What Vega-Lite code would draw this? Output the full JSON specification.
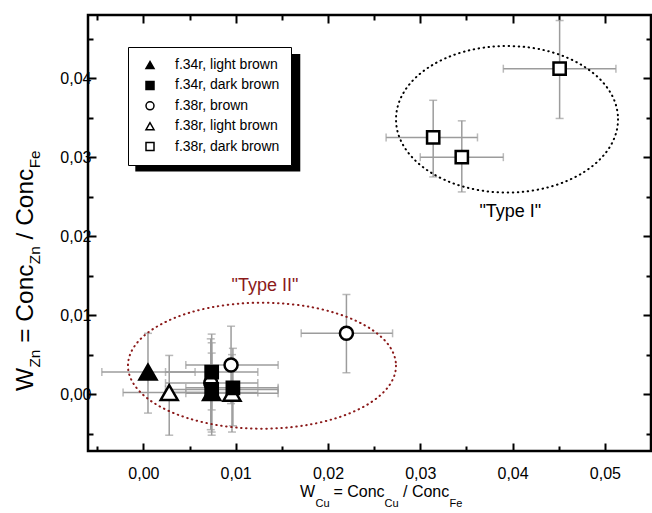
{
  "$schema": "https://vega.github.io/schema/vega-lite/v6.json",
  "width": 563,
  "height": 436,
  "autosize": "none",
  "padding": {"left": 88, "top": 15, "right": 1, "bottom": 62},
  "background": "white",
  "config": {
    "font": "Liberation Sans",
    "view": {"stroke": "black", "strokeWidth": 2.5},
    "axis": {"domain": false, "grid": false, "tickColor": "black", "tickWidth": 2, "labelFont": "Liberation Sans", "labelFontSize": 16, "labelColor": "black", "labelOverlap": false, "labelFlush": false},
    "legend": {"orient": "none", "legendX": 40, "legendY": 32, "padding": 11, "fillColor": "white", "strokeColor": "black", "labelFont": "Liberation Sans", "labelFontSize": 14, "labelColor": "black", "symbolSize": 64, "symbolStrokeWidth": 1.5, "symbolOffset": 4, "labelOffset": 18, "rowPadding": 6.4}
  },
  "datasets": {
    "pts": [
      {"series": "f.38r, brown", "x": 0.0073, "y": 0.0014, "xlo": 0.0024, "xhi": 0.0124, "ylo": -0.0045, "yhi": 0.0070},
      {"series": "f.38r, brown", "x": 0.0095, "y": 0.0037, "xlo": 0.0046, "xhi": 0.0146, "ylo": -0.0012, "yhi": 0.0086},
      {"series": "f.38r, brown", "x": 0.0220, "y": 0.0077, "xlo": 0.0171, "xhi": 0.0270, "ylo": 0.0027, "yhi": 0.0126},
      {"series": "f.38r, light brown", "x": 0.0028, "y": 0.0002, "xlo": -0.0022, "xhi": 0.0077, "ylo": -0.0052, "yhi": 0.0049},
      {"series": "f.38r, light brown", "x": 0.0096, "y": 0.0001, "xlo": 0.0046, "xhi": 0.0146, "ylo": -0.0048, "yhi": 0.0050},
      {"series": "f.34r, light brown", "x": 0.0005, "y": 0.0028, "xlo": -0.0045, "xhi": 0.0056, "ylo": -0.0024, "yhi": 0.0077},
      {"series": "f.34r, light brown", "x": 0.0074, "y": 0.0002, "xlo": 0.0024, "xhi": 0.0124, "ylo": -0.0048, "yhi": 0.0052},
      {"series": "f.34r, dark brown", "x": 0.0074, "y": 0.0028, "xlo": 0.0024, "xhi": 0.0124, "ylo": -0.0020, "yhi": 0.0076},
      {"series": "f.34r, dark brown", "x": 0.0074, "y": 0.0006, "xlo": 0.0024, "xhi": 0.0146, "ylo": -0.0052, "yhi": 0.0065},
      {"series": "f.34r, dark brown", "x": 0.0097, "y": 0.0008, "xlo": 0.0046, "xhi": 0.0146, "ylo": -0.0040, "yhi": 0.0058},
      {"series": "f.38r, dark brown", "x": 0.0314, "y": 0.0325, "xlo": 0.0263, "xhi": 0.0362, "ylo": 0.0275, "yhi": 0.0372},
      {"series": "f.38r, dark brown", "x": 0.0345, "y": 0.0300, "xlo": 0.0300, "xhi": 0.0390, "ylo": 0.0256, "yhi": 0.0346},
      {"series": "f.38r, dark brown", "x": 0.0451, "y": 0.0412, "xlo": 0.0390, "xhi": 0.0512, "ylo": 0.0349, "yhi": 0.0473}
    ],
    "one": [{}]
  },
  "layer": [
    {
      "data": {"name": "pts"},
      "mark": {"type": "rule", "color": "#9c9c9c", "strokeWidth": 1.5},
      "encoding": {
        "x": {"field": "xlo", "type": "quantitative", "scale": {"domain": [-0.006, 0.055], "nice": false, "zero": false},
          "axis": {"orient": "bottom", "title": null, "values": [-0.005, 0, 0.005, 0.01, 0.015, 0.02, 0.025, 0.03, 0.035, 0.04, 0.045, 0.05],
            "tickSize": {"condition": {"test": "abs(datum.value*100-round(datum.value*100))<0.001", "value": -8}, "value": -5},
            "labelPadding": 22,
            "labelExpr": "abs(datum.value*100-round(datum.value*100))<0.001 ? replace(format(datum.value,'.2f'),'.',',') : ''"}},
        "x2": {"field": "xhi"},
        "y": {"field": "y", "type": "quantitative", "scale": {"domain": [-0.0072, 0.048], "nice": false, "zero": false},
          "axis": {"orient": "left", "title": null, "values": [-0.005, 0, 0.005, 0.01, 0.015, 0.02, 0.025, 0.03, 0.035, 0.04, 0.045],
            "tickSize": {"condition": {"test": "abs(datum.value*100-round(datum.value*100))<0.001", "value": -8}, "value": -5},
            "labelPadding": 5,
            "labelExpr": "abs(datum.value*100-round(datum.value*100))<0.001 ? replace(format(datum.value,'.2f'),'.',',') : ''"}}
      }
    },
    {
      "data": {"name": "pts"},
      "mark": {"type": "rule", "color": "#9c9c9c", "strokeWidth": 1.5},
      "encoding": {
        "x": {"field": "x", "type": "quantitative", "axis": null},
        "y": {"field": "ylo", "type": "quantitative", "axis": null},
        "y2": {"field": "yhi"}
      }
    },
    {
      "data": {"name": "pts"},
      "mark": {"type": "tick", "orient": "vertical", "size": 8, "thickness": 1.5, "color": "#9c9c9c"},
      "encoding": {
        "x": {"field": "xlo", "type": "quantitative", "axis": null},
        "y": {"field": "y", "type": "quantitative", "axis": null}
      }
    },
    {
      "data": {"name": "pts"},
      "mark": {"type": "tick", "orient": "vertical", "size": 8, "thickness": 1.5, "color": "#9c9c9c"},
      "encoding": {
        "x": {"field": "xhi", "type": "quantitative", "axis": null},
        "y": {"field": "y", "type": "quantitative", "axis": null}
      }
    },
    {
      "data": {"name": "pts"},
      "mark": {"type": "tick", "orient": "horizontal", "size": 8, "thickness": 1.5, "color": "#9c9c9c"},
      "encoding": {
        "x": {"field": "x", "type": "quantitative", "axis": null},
        "y": {"field": "ylo", "type": "quantitative", "axis": null}
      }
    },
    {
      "data": {"name": "pts"},
      "mark": {"type": "tick", "orient": "horizontal", "size": 8, "thickness": 1.5, "color": "#9c9c9c"},
      "encoding": {
        "x": {"field": "x", "type": "quantitative", "axis": null},
        "y": {"field": "yhi", "type": "quantitative", "axis": null}
      }
    },
    {
      "data": {"name": "one"},
      "mark": {"type": "point", "shape": "M1,0C1,0.3645 0.5523,0.66 0,0.66C-0.5523,0.66 -1,0.3645 -1,0C-1,-0.3645 -0.5523,-0.66 0,-0.66C0.5523,-0.66 1,-0.3645 1,0Z", "size": 49284, "filled": false, "stroke": "black", "strokeWidth": 2, "strokeDash": [0.5, 4.5], "strokeCap": "round", "opacity": 1},
      "encoding": {
        "x": {"datum": 0.0394, "type": "quantitative", "axis": null},
        "y": {"datum": 0.0348, "type": "quantitative", "axis": null}
      }
    },
    {
      "data": {"name": "one"},
      "mark": {"type": "point", "shape": "M1,0C1,0.2596 0.5523,0.47 0,0.47C-0.5523,0.47 -1,0.2596 -1,0C-1,-0.2596 -0.5523,-0.47 0,-0.47C0.5523,-0.47 1,-0.2596 1,0Z", "size": 71824, "filled": false, "stroke": "#8B1A1A", "strokeWidth": 2, "strokeDash": [0.5, 4.5], "strokeCap": "round", "opacity": 1},
      "encoding": {
        "x": {"datum": 0.01285, "type": "quantitative", "axis": null},
        "y": {"datum": 0.0036, "type": "quantitative", "axis": null}
      }
    },
    {
      "data": {"name": "pts"},
      "transform": [{"filter": {"field": "series", "oneOf": ["f.38r, brown"]}}],
      "mark": {"type": "point", "filled": true, "stroke": "black", "strokeWidth": 2.5, "opacity": 1, "size": 170},
      "encoding": {
        "x": {"field": "x", "type": "quantitative", "axis": null},
        "y": {"field": "y", "type": "quantitative", "axis": null},
        "shape": {"field": "series", "type": "nominal",
          "legend": {"title": null, "encode": {"symbols": {"stroke": {"value": "black"}, "strokeWidth": {"value": 1.5}}}},
          "scale": {"domain": ["f.34r, light brown", "f.34r, dark brown", "f.38r, brown", "f.38r, light brown", "f.38r, dark brown"], "range": ["triangle-up", "square", "circle", "triangle-up", "square"]}},
        "fill": {"field": "series", "type": "nominal",
          "legend": {"title": null, "encode": {"symbols": {"stroke": {"value": "black"}, "strokeWidth": {"value": 1.5}}}},
          "scale": {"domain": ["f.34r, light brown", "f.34r, dark brown", "f.38r, brown", "f.38r, light brown", "f.38r, dark brown"], "range": ["black", "black", "white", "white", "white"]}}
      }
    },
    {
      "data": {"name": "pts"},
      "transform": [{"filter": {"field": "series", "oneOf": ["f.38r, light brown", "f.34r, light brown"]}}],
      "mark": {"type": "point", "filled": true, "stroke": "black", "strokeWidth": 2.5, "opacity": 1, "size": 290},
      "encoding": {
        "x": {"field": "x", "type": "quantitative", "axis": null},
        "y": {"field": "y", "type": "quantitative", "axis": null},
        "shape": {"field": "series", "type": "nominal",
          "legend": {"title": null, "encode": {"symbols": {"stroke": {"value": "black"}, "strokeWidth": {"value": 1.5}}}},
          "scale": {"domain": ["f.34r, light brown", "f.34r, dark brown", "f.38r, brown", "f.38r, light brown", "f.38r, dark brown"], "range": ["triangle-up", "square", "circle", "triangle-up", "square"]}},
        "fill": {"field": "series", "type": "nominal",
          "legend": {"title": null, "encode": {"symbols": {"stroke": {"value": "black"}, "strokeWidth": {"value": 1.5}}}},
          "scale": {"domain": ["f.34r, light brown", "f.34r, dark brown", "f.38r, brown", "f.38r, light brown", "f.38r, dark brown"], "range": ["black", "black", "white", "white", "white"]}}
      }
    },
    {
      "data": {"name": "pts"},
      "transform": [{"filter": {"field": "series", "oneOf": ["f.34r, dark brown", "f.38r, dark brown"]}}],
      "mark": {"type": "point", "filled": true, "stroke": "black", "strokeWidth": 2.5, "opacity": 1, "size": 150},
      "encoding": {
        "x": {"field": "x", "type": "quantitative", "axis": null},
        "y": {"field": "y", "type": "quantitative", "axis": null},
        "shape": {"field": "series", "type": "nominal",
          "legend": {"title": null, "encode": {"symbols": {"stroke": {"value": "black"}, "strokeWidth": {"value": 1.5}}}},
          "scale": {"domain": ["f.34r, light brown", "f.34r, dark brown", "f.38r, brown", "f.38r, light brown", "f.38r, dark brown"], "range": ["triangle-up", "square", "circle", "triangle-up", "square"]}},
        "fill": {"field": "series", "type": "nominal",
          "legend": {"title": null, "encode": {"symbols": {"stroke": {"value": "black"}, "strokeWidth": {"value": 1.5}}}},
          "scale": {"domain": ["f.34r, light brown", "f.34r, dark brown", "f.38r, brown", "f.38r, light brown", "f.38r, dark brown"], "range": ["black", "black", "white", "white", "white"]}}
      }
    },
    {
      "data": {"name": "one"},
      "mark": {"type": "text", "text": "\"Type I\"", "align": "center", "baseline": "alphabetic", "fontSize": 18, "font": "Liberation Sans", "color": "black"},
      "encoding": {"x": {"datum": 0.03976, "type": "quantitative", "axis": null}, "y": {"datum": 0.02246, "type": "quantitative", "axis": null}}
    },
    {
      "data": {"name": "one"},
      "mark": {"type": "text", "text": "\"Type II\"", "align": "center", "baseline": "alphabetic", "fontSize": 18, "font": "Liberation Sans", "color": "#8B1A1A"},
      "encoding": {"x": {"datum": 0.01318, "type": "quantitative", "axis": null}, "y": {"datum": 0.0131, "type": "quantitative", "axis": null}}
    },
    {
      "data": {"name": "one"},
      "mark": {"type": "text", "text": "W", "align": "left", "baseline": "alphabetic", "fontSize": 16, "color": "black"},
      "encoding": {"x": {"datum": 0.01697, "type": "quantitative", "axis": null}, "y": {"datum": -0.01302, "type": "quantitative", "axis": null}}
    },
    {
      "data": {"name": "one"},
      "mark": {"type": "text", "text": "Cu", "align": "left", "baseline": "alphabetic", "fontSize": 11, "dx": 15.5, "dy": 10, "color": "black"},
      "encoding": {"x": {"datum": 0.01697, "type": "quantitative", "axis": null}, "y": {"datum": -0.01302, "type": "quantitative", "axis": null}}
    },
    {
      "data": {"name": "one"},
      "mark": {"type": "text", "text": "= Conc", "align": "left", "baseline": "alphabetic", "fontSize": 16, "dx": 33.4, "color": "black"},
      "encoding": {"x": {"datum": 0.01697, "type": "quantitative", "axis": null}, "y": {"datum": -0.01302, "type": "quantitative", "axis": null}}
    },
    {
      "data": {"name": "one"},
      "mark": {"type": "text", "text": "Cu", "align": "left", "baseline": "alphabetic", "fontSize": 11, "dx": 84.5, "dy": 10, "color": "black"},
      "encoding": {"x": {"datum": 0.01697, "type": "quantitative", "axis": null}, "y": {"datum": -0.01302, "type": "quantitative", "axis": null}}
    },
    {
      "data": {"name": "one"},
      "mark": {"type": "text", "text": "/ Conc", "align": "left", "baseline": "alphabetic", "fontSize": 16, "dx": 103, "color": "black"},
      "encoding": {"x": {"datum": 0.01697, "type": "quantitative", "axis": null}, "y": {"datum": -0.01302, "type": "quantitative", "axis": null}}
    },
    {
      "data": {"name": "one"},
      "mark": {"type": "text", "text": "Fe", "align": "left", "baseline": "alphabetic", "fontSize": 11, "dx": 149.5, "dy": 10, "color": "black"},
      "encoding": {"x": {"datum": 0.01697, "type": "quantitative", "axis": null}, "y": {"datum": -0.01302, "type": "quantitative", "axis": null}}
    },
    {
      "data": {"name": "one"},
      "mark": {"type": "text", "text": "W", "align": "left", "baseline": "alphabetic", "fontSize": 24.5, "angle": 270, "color": "black"},
      "encoding": {"x": {"datum": -0.01196, "type": "quantitative", "axis": null}, "y": {"datum": 0.0004, "type": "quantitative", "axis": null}}
    },
    {
      "data": {"name": "one"},
      "mark": {"type": "text", "text": "Zn", "align": "left", "baseline": "alphabetic", "fontSize": 15.3, "angle": 270, "dx": 23.5, "dy": 7, "color": "black"},
      "encoding": {"x": {"datum": -0.01196, "type": "quantitative", "axis": null}, "y": {"datum": 0.0004, "type": "quantitative", "axis": null}}
    },
    {
      "data": {"name": "one"},
      "mark": {"type": "text", "text": "= Conc", "align": "left", "baseline": "alphabetic", "fontSize": 24.5, "angle": 270, "dx": 48.2, "color": "black"},
      "encoding": {"x": {"datum": -0.01196, "type": "quantitative", "axis": null}, "y": {"datum": 0.0004, "type": "quantitative", "axis": null}}
    },
    {
      "data": {"name": "one"},
      "mark": {"type": "text", "text": "Zn", "align": "left", "baseline": "alphabetic", "fontSize": 15.3, "angle": 270, "dx": 126.8, "dy": 7, "color": "black"},
      "encoding": {"x": {"datum": -0.01196, "type": "quantitative", "axis": null}, "y": {"datum": 0.0004, "type": "quantitative", "axis": null}}
    },
    {
      "data": {"name": "one"},
      "mark": {"type": "text", "text": "/ Conc", "align": "left", "baseline": "alphabetic", "fontSize": 24.5, "angle": 270, "dx": 151.5, "color": "black"},
      "encoding": {"x": {"datum": -0.01196, "type": "quantitative", "axis": null}, "y": {"datum": 0.0004, "type": "quantitative", "axis": null}}
    },
    {
      "data": {"name": "one"},
      "mark": {"type": "text", "text": "Fe", "align": "left", "baseline": "alphabetic", "fontSize": 15.3, "angle": 270, "dx": 222.6, "dy": 7, "color": "black"},
      "encoding": {"x": {"datum": -0.01196, "type": "quantitative", "axis": null}, "y": {"datum": 0.0004, "type": "quantitative", "axis": null}}
    },
    {
      "data": {"name": "one"},
      "mark": {"type": "rect", "color": "black", "opacity": 1},
      "encoding": {
        "x": {"datum": -0.000875, "type": "quantitative",
          "axis": {"orient": "top", "title": null, "labels": false, "values": [-0.005, 0, 0.005, 0.01, 0.015, 0.02, 0.025, 0.03, 0.035, 0.04, 0.045, 0.05],
            "tickSize": {"condition": {"test": "abs(datum.value*100-round(datum.value*100))<0.001", "value": -8}, "value": -5}}},
        "x2": {"datum": 0.0170},
        "y": {"datum": 0.043062, "type": "quantitative",
          "axis": {"orient": "right", "title": null, "labels": false, "values": [-0.005, 0, 0.005, 0.01, 0.015, 0.02, 0.025, 0.03, 0.035, 0.04, 0.045],
            "tickSize": {"condition": {"test": "abs(datum.value*100-round(datum.value*100))<0.001", "value": -8}, "value": -5}}},
        "y2": {"datum": 0.028174}
      }
    }
  ],
  "resolve": {"axis": {"x": "independent", "y": "independent"}}
}
